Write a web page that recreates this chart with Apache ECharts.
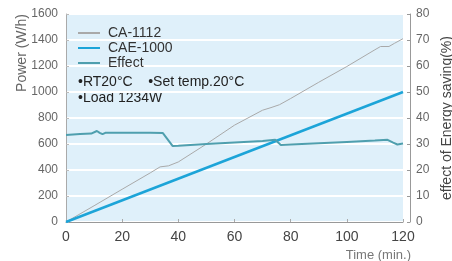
<!DOCTYPE html>
<html>
<head>
<meta charset="utf-8">
<script src="https://cdn.jsdelivr.net/npm/echarts@6/dist/echarts.min.js"></script>
<style>
  html, body { margin: 0; padding: 0; background: #fff; }
  #chart { width: 452px; height: 261px; }
</style>
</head>
<body>
<div id="chart"></div>
<script>
// CA-1112 power (W/h) against time (min.)
const caTimes = [0, 10, 20, 30, 33.5, 36.5, 40, 50, 60, 70, 73, 76, 80, 90, 100, 110, 112, 115, 117, 120]
const caPower = [0, 125, 252, 378, 424, 432, 462, 600, 745, 860, 880, 902, 950, 1075, 1196, 1325, 1350, 1350, 1375, 1410]

// CAE-1000 power (W/h)
const caeTimes = [0, 120]
const caePower = [0, 1000]

// effect of energy saving (%)
const effTimes = [0, 5, 9, 11, 12, 13, 14, 20, 30, 34.5, 38, 40, 50, 60, 70, 74.5, 76.5, 80, 90, 100, 110, 114.5, 116.5, 118, 120]
const effValues = [33.5, 33.8, 34, 35, 34.3, 33.8, 34.3, 34.3, 34.3, 34.2, 29.2, 29.3, 30, 30.6, 31.2, 31.6, 29.6, 29.8, 30.3, 30.8, 31.3, 31.6, 30.5, 29.8, 30.2]

const leftTicks = [0, 200, 400, 600, 800, 1000, 1200, 1400, 1600]
const rightTicks = [0, 10, 20, 30, 40, 50, 60, 70, 80]
const timeTicks = [0, 20, 40, 60, 80, 100, 120]

const pairs = (xs, ys) => xs.map((x, i) => [x, ys[i]])

const chart = echarts.init(document.getElementById('chart'))
const narrow = '"Liberation Sans Narrow", "Liberation Sans", sans-serif'
const plain = '"Liberation Sans", sans-serif'

const option = {
  animation: false,
  grid: {
    left: 66, right: 49, top: 14, bottom: 39,
    outerBoundsMode: 'none',
    containLabel: false,
    show: true,
    backgroundColor: '#dff0fa',
    borderWidth: 0
  },
  legend: {
    orient: 'vertical',
    left: 77, top: 26,
    padding: 0,
    itemWidth: 22, itemHeight: 10, itemGap: 1,
    itemStyle: { opacity: 0 },
    textStyle: { color: '#333', fontSize: 14, fontFamily: plain, padding: [0, 0, 0, 3] },
    data: ['CA-1112', 'CAE-1000', 'Effect']
  },
  xAxis: {
    type: 'value',
    min: timeTicks[0], max: timeTicks[timeTicks.length - 1], interval: 20,
    name: 'Time (min.)',
    nameLocation: 'end',
    nameGap: 0,
    nameTextStyle: { color: '#777', fontSize: 13, align: 'right', verticalAlign: 'top', padding: [27, -8, 0, 0], fontFamily: narrow },
    axisLine: { lineStyle: { color: '#999' } },
    axisTick: { show: true, inside: true, length: 3, lineStyle: { color: '#aaa' } },
    axisLabel: { color: '#444', fontSize: 14, margin: 8, fontFamily: narrow, formatter: v => String(v) },
    splitLine: { show: false }
  },
  yAxis: [
    {
      type: 'value',
      min: leftTicks[0], max: leftTicks[leftTicks.length - 1], interval: 200,
      axisLine: { show: true, lineStyle: { color: '#aaa' } },
      axisTick: { show: true, inside: true, length: 3, lineStyle: { color: '#bbb' } },
      axisLabel: { color: '#666', fontSize: 12, margin: 8, fontFamily: narrow, formatter: v => String(v) },
      splitLine: { show: true, lineStyle: { color: '#ffffff', width: 2 } }
    },
    {
      type: 'value',
      position: 'right',
      offset: 7,
      min: rightTicks[0], max: rightTicks[rightTicks.length - 1], interval: 10,
      name: 'effect of Energy saving(%)',
      nameLocation: 'middle',
      nameRotate: 90,
      nameGap: 20,
      nameTextStyle: { color: '#444', fontSize: 14, fontFamily: plain },
      axisLine: { show: true, lineStyle: { color: '#999' } },
      axisTick: { show: true, inside: true, length: 3, lineStyle: { color: '#999' } },
      axisLabel: { color: '#666', fontSize: 12, margin: 6, fontFamily: narrow, formatter: v => String(v) },
      splitLine: { show: false }
    }
  ],
  graphic: [
    {
      type: 'text', x: 22, y: 53, rotation: Math.PI / 2,
      style: { text: 'Power (W/h)', fill: '#666', fontSize: 14, fontFamily: plain, align: 'center', verticalAlign: 'middle' }
    },
    {
      type: 'text', left: 78, top: 75,
      style: { text: '•RT20°C    •Set temp.20°C', fill: '#222', fontSize: 14, fontFamily: plain }
    },
    {
      type: 'text', left: 78, top: 91,
      style: { text: '•Load 1234W', fill: '#222', fontSize: 14, fontFamily: plain }
    }
  ],
  series: [
    {
      name: 'CA-1112', type: 'line', yAxisIndex: 0,
      symbol: 'none',
      lineStyle: { color: '#a9a9a9', width: 1 },
      itemStyle: { color: '#a9a9a9' },
      data: pairs(caTimes, caPower)
    },
    {
      name: 'CAE-1000', type: 'line', yAxisIndex: 0,
      symbol: 'none',
      lineStyle: { color: '#1ca4d8', width: 2.5 },
      itemStyle: { color: '#1ca4d8' },
      data: pairs(caeTimes, caePower)
    },
    {
      name: 'Effect', type: 'line', yAxisIndex: 1,
      symbol: 'none',
      lineStyle: { color: '#4f9fae', width: 2 },
      itemStyle: { color: '#4f9fae' },
      data: pairs(effTimes, effValues)
    }
  ]
}

chart.setOption(option)
</script>
</body>
</html>
